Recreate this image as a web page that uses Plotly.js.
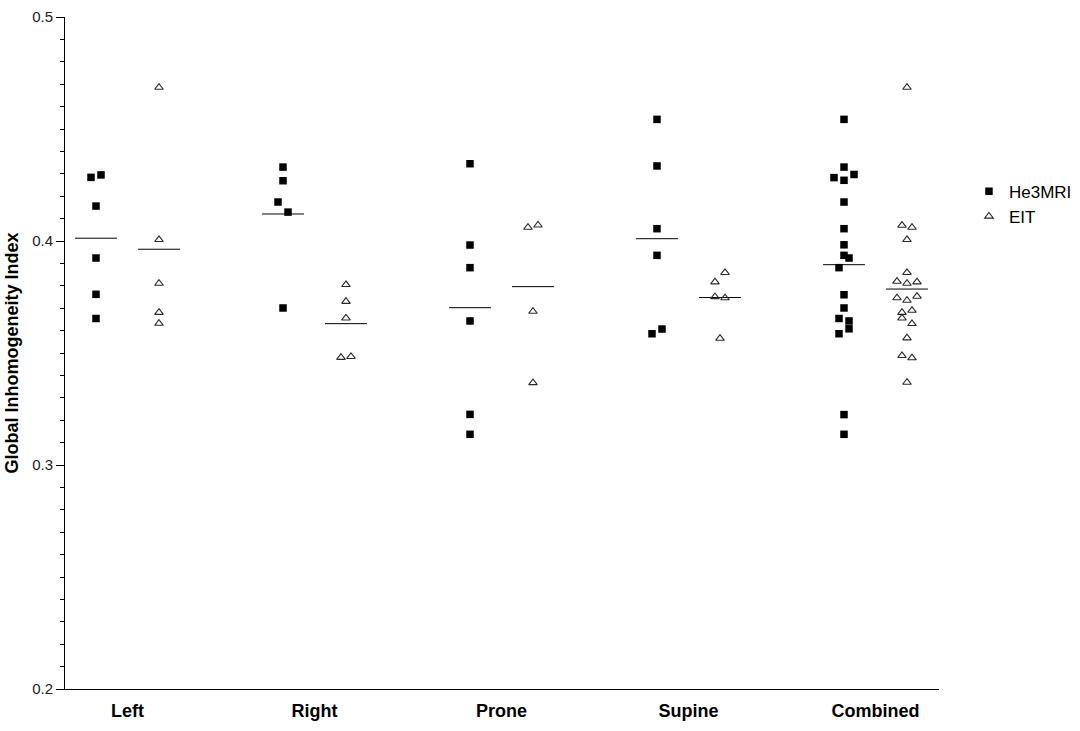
<!DOCTYPE html>
<html>
<head>
<meta charset="utf-8">
<script src="https://cdn.plot.ly/plotly-3.0.1.min.js"></script>
<style>
  html, body { margin: 0; padding: 0; background: #ffffff; }
  #chart { width: 1080px; height: 731px; }
</style>
</head>
<body>
<div id="chart"></div>
<script>
// ---- data ----
const categories = ['Left', 'Right', 'Prone', 'Supine', 'Combined'];
const seriesNames = ['He3MRI', 'EIT'];
const yTickVals = [0.2, 0.3, 0.4, 0.5];

const heLeft     = [0.4284, 0.4295, 0.4156, 0.3924, 0.3762, 0.3654];
const heRight    = [0.4330, 0.4269, 0.4174, 0.4129, 0.3701];
const heProne    = [0.4345, 0.3982, 0.3881, 0.3643, 0.3226, 0.3137];
const heSupine   = [0.4543, 0.4335, 0.4055, 0.3936, 0.3586, 0.3607];
const heCombined = [0.4543, 0.4330, 0.4283, 0.4271, 0.4297, 0.4174, 0.4055, 0.3983, 0.3936,
                    0.3881, 0.3924, 0.3760, 0.3701, 0.3654, 0.3643, 0.3586, 0.3608, 0.3225, 0.3137];

const eitLeft     = [0.4686, 0.4006, 0.3811, 0.3681, 0.3632];
const eitRight    = [0.3805, 0.3730, 0.3656, 0.3480, 0.3484];
const eitProne    = [0.4061, 0.4071, 0.3686, 0.3367];
const eitSupine   = [0.3817, 0.3859, 0.3751, 0.3746, 0.3565];
const eitCombined = [0.4686, 0.4070, 0.4061, 0.4006, 0.3859, 0.3820, 0.3811, 0.3817, 0.3746,
                     0.3735, 0.3753, 0.3681, 0.3690, 0.3656, 0.3631, 0.3567, 0.3488, 0.3478, 0.3369];

const heGroups  = [heLeft, heRight, heProne, heSupine, heCombined];
const eitGroups = [eitLeft, eitRight, eitProne, eitSupine, eitCombined];

// ---- layout constants (in category units) ----
const SERIES_SHIFT = 0.1684;  // distance of each series column from the category centre
const STEP = 0.0535;          // horizontal spread between neighbouring points in a row
const ROW_TOL = 0.0046;       // values closer than this share a row
const HALF_LINE = 0.112;      // half width of the mean line

// column scatter: points of similar value are spread side by side
function spread(vals) {
  const order = vals.map((v, i) => i).sort((a, b) => (vals[a] - vals[b]) || (a - b));
  const off = new Array(vals.length).fill(0);
  let row = [], start = null;
  const flush = () => {
    const r = row.slice().sort((a, b) => a - b);
    r.forEach((k, j) => { off[k] = (j - (r.length - 1) / 2) * STEP; });
  };
  order.forEach(i => {
    if (start !== null && vals[i] - start < ROW_TOL) row.push(i);
    else { if (row.length) flush(); row = [i]; start = vals[i]; }
  });
  if (row.length) flush();
  return off;
}

function buildPoints(groups, shift) {
  const xs = [], ys = [];
  groups.forEach((vals, g) => {
    const off = spread(vals);
    vals.forEach((v, i) => { xs.push(g + shift + off[i]); ys.push(v); });
  });
  return { xs, ys };
}

function buildMeans(groups, shift) {
  const xs = [], ys = [];
  groups.forEach((vals, g) => {
    const m = vals.reduce((a, b) => a + b, 0) / vals.length;
    const c = g + shift;
    xs.push(c - HALF_LINE, c + HALF_LINE, null);
    ys.push(m, m, null);
  });
  return { xs, ys };
}

const hePts = buildPoints(heGroups, -SERIES_SHIFT);
const eitPts = buildPoints(eitGroups, SERIES_SHIFT);
const heMean = buildMeans(heGroups, -SERIES_SHIFT);
const eitMean = buildMeans(eitGroups, SERIES_SHIFT);

const FONT = 'Liberation Sans, Arial, Helvetica, sans-serif';

const traces = [
  {
    type: 'scatter', mode: 'lines', x: heMean.xs, y: heMean.ys,
    line: { color: '#000000', width: 1 }, showlegend: false, hoverinfo: 'skip'
  },
  {
    type: 'scatter', mode: 'lines', x: eitMean.xs, y: eitMean.ys,
    line: { color: '#000000', width: 1 }, showlegend: false, hoverinfo: 'skip'
  },
  {
    type: 'scatter', mode: 'markers', name: seriesNames[0],
    x: hePts.xs, y: hePts.ys,
    marker: { symbol: 'square', size: 7.5, color: '#000000', line: { width: 0 } }
  },
  {
    type: 'scatter', mode: 'markers', name: seriesNames[1],
    x: eitPts.xs, y: eitPts.ys,
    marker: { symbol: 'triangle-up-open', size: 7.5, color: '#2a2a2a', line: { width: 1.1, color: '#2a2a2a' } }
  }
];

const layout = {
  width: 1080, height: 731,
  margin: { l: 65, r: 141, t: 17, b: 42, pad: 0, autoexpand: false },
  paper_bgcolor: '#ffffff', plot_bgcolor: '#ffffff',
  font: { family: FONT, color: '#000000' },
  showlegend: true,
  legend: {
    x: 1.0343, y: 0.767, xanchor: 'left', yanchor: 'top',
    font: { family: FONT, size: 17, color: '#000000' },
    bgcolor: 'rgba(0,0,0,0)', borderwidth: 0, tracegroupgap: 0
  },
  xaxis: {
    range: [-0.3342, 4.3396],
    tickmode: 'array', tickvals: categories.map((c, i) => i), ticktext: categories,
    ticks: '', showgrid: false, zeroline: false,
    showline: true, linecolor: '#000000', linewidth: 1,
    tickfont: { family: FONT, size: 18, weight: 'bold', color: '#000000' },
    ticklabelstandoff: 5,
    automargin: false,
    fixedrange: true
  },
  yaxis: {
    range: [0.2, 0.5],
    tickmode: 'array', tickvals: yTickVals, ticktext: yTickVals.map(v => v.toFixed(1)),
    ticks: 'outside', ticklen: 8, tickwidth: 1, tickcolor: '#000000',
    minor: { dtick: 0.01, tick0: 0.2, ticks: 'outside', ticklen: 4, tickwidth: 1, tickcolor: '#000000', showgrid: false },
    showgrid: false, zeroline: false,
    showline: true, linecolor: '#000000', linewidth: 1,
    tickfont: { family: FONT, size: 15, color: '#222222' },
    title: { text: 'Global Inhomogeneity Index', font: { family: FONT, size: 18, weight: 'bold', color: '#000000' }, standoff: 8 },
    automargin: false,
    fixedrange: true
  }
};

Plotly.newPlot('chart', traces, layout, { staticPlot: true, displayModeBar: false });
</script>
</body>
</html>
